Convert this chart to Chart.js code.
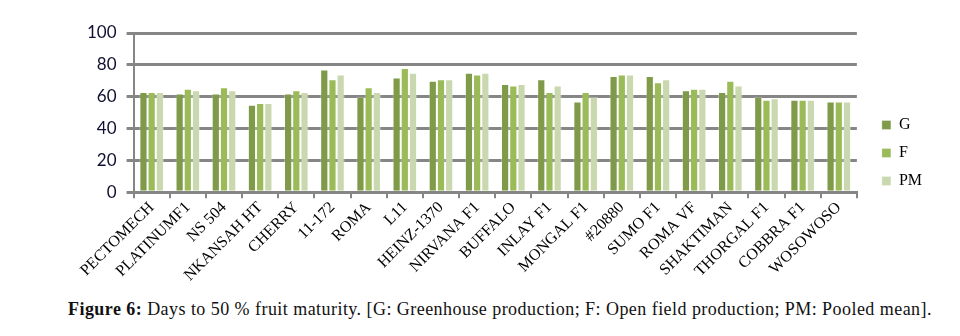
<!DOCTYPE html>
<html>
<head>
<meta charset="utf-8">
<script src="https://cdn.jsdelivr.net/npm/chart.js@4/dist/chart.umd.min.js"></script>
<style>
  html, body { margin: 0; padding: 0; background: #fff; }
  #wrap { position: relative; width: 960px; height: 336px; }
  #box { position: absolute; left: 0; top: 0; width: 960px; height: 285px; }
  #cap { position: absolute; left: 68px; top: 299px; font-family: "Liberation Serif", serif; font-size: 18px; letter-spacing: 0.45px; color: #111; white-space: nowrap; }
</style>
</head>
<body>
<div id="wrap">
  <div id="box"><canvas id="c"></canvas></div>
  <div id="cap"><b>Figure 6:</b> Days to 50 % fruit maturity. [G: Greenhouse production; F: Open field production; PM: Pooled mean].</div>
</div>
<script>
const categories = ["PECTOMECH","PLATINUMF1","NS 504","NKANSAH HT","CHERRY","11-172","ROMA","L11","HEINZ-1370","NIRVANA F1","BUFFALO","INLAY F1","MONGAL F1","#20880","SUMO F1","ROMA VF","SHAKTIMAN","THORGAL F1","COBBRA F1","WOSOWOSO"];
const seriesG  = [63,62,62,55,62,77,60,72,70,75,68,71,57,73,73,64,63,60,58,57];
const seriesF  = [63,65,66,56,64,71,66,78,71,74,67,63,63,74,69,65,70,58,58,57];
const seriesPM = [63,64,64,56,63,74,63,75,71,75,68,67,60,74,71,65,67,59,58,57];
const yTicks = [0,20,40,60,80,100];

const grey = '#868686';
const legendShift = {
  id: 'legendShift',
  afterLayout(chart) {
    const l = chart.legend;
    if (!l) return;
    l.left += 13; l.right += 13;
    l.top -= 6; l.bottom -= 6;
  }
};
new Chart(document.getElementById('c'), {
  type: 'bar',
  data: {
    labels: categories,
    datasets: [
      { label: 'G',  data: seriesG,  backgroundColor: '#7f9a48', borderColor: 'rgba(255,255,255,0.3)', borderWidth: 1 },
      { label: 'F',  data: seriesF,  backgroundColor: '#9bbb59', borderColor: 'rgba(255,255,255,0.3)', borderWidth: 1 },
      { label: 'PM', data: seriesPM, backgroundColor: '#c9d8ae', borderColor: 'rgba(255,255,255,0.3)', borderWidth: 1 }
    ]
  },
  plugins: [legendShift],
  options: {
    responsive: true,
    maintainAspectRatio: false,
    animation: false,
    datasets: { bar: { categoryPercentage: 0.68, barPercentage: 1.0 } },
    layout: { padding: { left: 77, right: 41, top: 33, bottom: 0 } },
    plugins: {
      legend: {
        position: 'right',
        align: 'center',
        labels: {
          boxWidth: 9, boxHeight: 9, padding: 12,
          color: '#000',
          font: { family: '"Liberation Serif", serif', size: 16 }
        }
      },
      tooltip: { enabled: false }
    },
    scales: {
      x: {
        grid: { display: true, drawOnChartArea: false, drawTicks: true, tickLength: 6, color: grey, lineWidth: 2, offset: true },
        border: { display: true, color: grey, width: 3 },
        ticks: {
          maxRotation: 45, minRotation: 45, autoSkip: false, padding: 0,
          color: '#000',
          font: { family: '"Liberation Serif", serif', size: 16 }
        }
      },
      y: {
        min: 0, max: 100,
        afterBuildTicks: (axis) => { axis.ticks = yTicks.map(v => ({ value: v })); },
        grid: { color: grey, lineWidth: 3, tickLength: 7, drawTicks: true },
        border: { display: true, color: grey, width: 2 },
        ticks: {
          padding: 10,
          color: '#101030',
          font: { family: 'Lato, sans-serif', size: 17 }
        }
      }
    }
  }
});
</script>
</body>
</html>
